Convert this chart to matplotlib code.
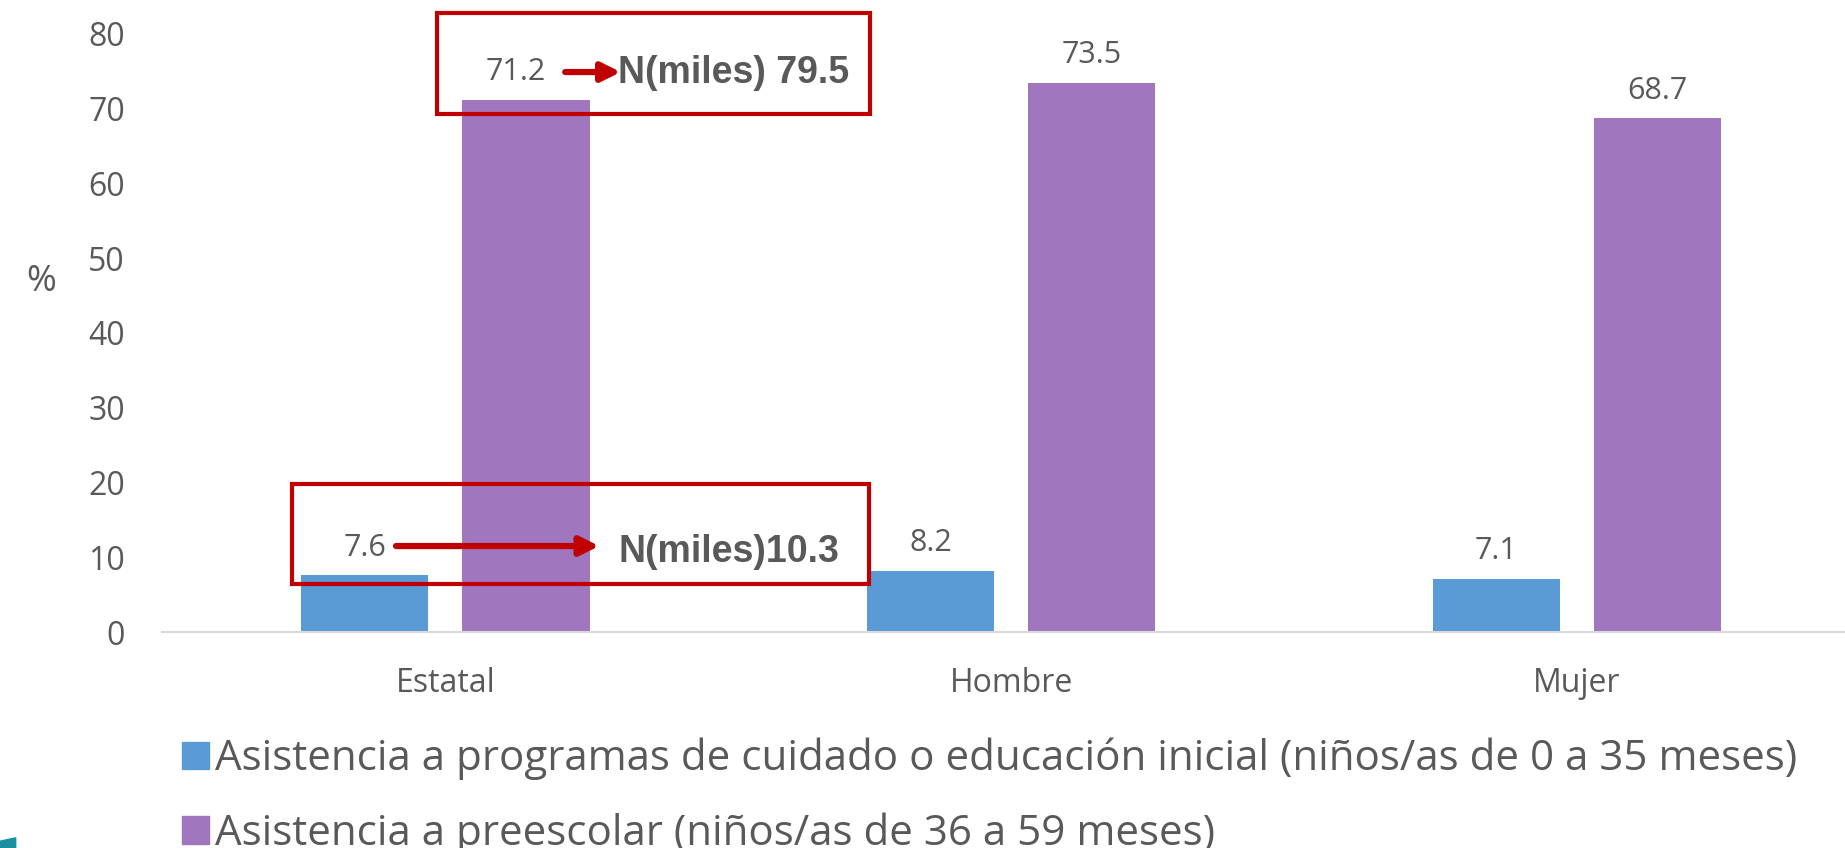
import matplotlib
matplotlib.use('Agg')
import matplotlib.pyplot as plt
from matplotlib.patches import Rectangle, Patch, Polygon

# data
categories = ['Estatal', 'Hombre', 'Mujer']
inicial = [7.6, 8.2, 7.1]       # 0 a 35 meses
preescolar = [71.2, 73.5, 68.7]  # 36 a 59 meses
series_names = ['Asistencia a programas de cuidado o educación inicial (niños/as de 0 a 35 meses)',
                'Asistencia a preescolar (niños/as de 36 a 59 meses)']
n_miles = ['N(miles)10.3', 'N(miles) 79.5']

blue = '#5B9BD5'
purple = '#A076BE'
grey = '#595959'
red = '#C00000'

plt.rcParams['font.family'] = ['Open Sans', 'DejaVu Sans']

fig = plt.figure(figsize=(18.45, 8.48), dpi=100)
ax = fig.add_axes([0.088, 0.2547, 0.92, 0.7053])

x = list(range(len(categories)))
w = 0.225
off = 0.1425
b1 = ax.bar([i - off for i in x], inicial, w, color=blue)
b2 = ax.bar([i + off for i in x], preescolar, w, color=purple)
ax.bar_label(b1, labels=[f'{v:.1f}' for v in inicial], padding=9, fontsize=22, color=grey)
lbl2 = ax.bar_label(b2, labels=[f'{v:.1f}' for v in preescolar], padding=9, fontsize=22, color=grey)
lbl2[0].xyann = (-7.5, 9)   # Estatal label nudged left inside the call-out box

ax.set_xlim(-0.5, 2.5)
ax.set_ylim(0, 80)
ax.set_yticks(range(0, 81, 10))
ax.set_xticks(x)
ax.set_xticklabels(categories)
ax.tick_params(axis='y', length=0, pad=27, labelsize=23, labelcolor=grey)
ax.tick_params(axis='x', length=0, pad=25, labelsize=23, labelcolor=grey)
for s in ['top', 'right', 'left']:
    ax.spines[s].set_visible(False)
ax.spines['bottom'].set_color('#D9D9D9')
ax.spines['bottom'].set_linewidth(1.5)
ax.text(-0.0713, 0.585, '%', transform=ax.transAxes, fontsize=26, color=grey,
        ha='center', va='center')

# red call-out boxes with arrows (Estatal)
ax.add_patch(Rectangle((-0.014, 69.3), 0.765, 13.5, fill=False, ec=red, lw=3, clip_on=False))
ax.add_patch(Rectangle((-0.27, 6.4), 1.019, 13.4, fill=False, ec=red, lw=3, clip_on=False))
ax.annotate('', xy=(0.31, 74.9), xytext=(0.212, 74.9),
            arrowprops=dict(arrowstyle='-|>', lw=4.5, color=red, mutation_scale=28,
                            shrinkA=0, shrinkB=0), annotation_clip=False)
ax.annotate('', xy=(0.272, 11.5), xytext=(-0.087, 11.5),
            arrowprops=dict(arrowstyle='-|>', lw=4.5, color=red, mutation_scale=28,
                            shrinkA=0, shrinkB=0), annotation_clip=False)
ax.text(0.306, 74.8, n_miles[1], fontsize=27, fontweight='bold', color=grey,
        va='center', ha='left', family=['Liberation Sans', 'DejaVu Sans'])
ax.text(0.306, 10.7, n_miles[0], fontsize=27, fontweight='bold', color=grey,
        va='center', ha='left', family=['Liberation Sans', 'DejaVu Sans'])

handles = [Patch(color=blue), Patch(color=purple)]
fig.legend(handles, series_names, loc='upper left', bbox_to_anchor=(0.0986, 0.13),
           frameon=False, fontsize=30.3, labelcolor=grey, handlelength=0.64, handleheight=0.64,
           handletextpad=0.15, labelspacing=0.76, borderaxespad=0, borderpad=0)

# cropped teal logo corner at bottom left
fig.patches.append(Polygon([(0, 0), (0.0085, 0), (0.0085, 0.012), (0, 0.008)], closed=True,
                           transform=fig.transFigure, color='#1A8FA0'))

fig.savefig('out.png', dpi=100)
